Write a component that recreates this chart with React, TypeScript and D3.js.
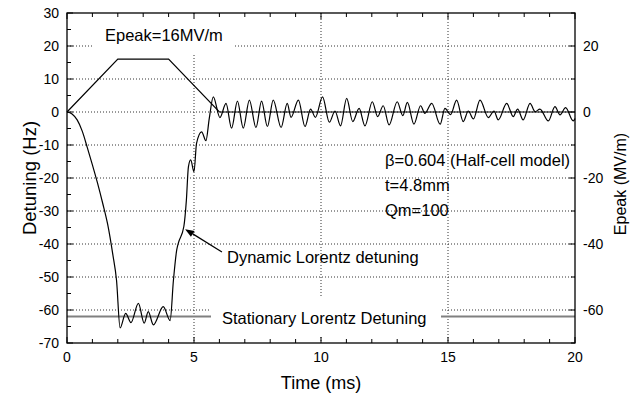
import React from 'react';
import * as d3 from 'd3';

// Dynamic Lorentz detuning (Hz) vs time (ms)
const detuneTime = [0, 0.2, 0.4, 0.6, 0.8, 1.0, 1.2, 1.4, 1.6, 1.8, 1.95, 2.09, 2.31, 2.52, 2.81, 3.04, 3.2, 3.4, 3.79, 4.06, 4.19, 4.32, 4.38, 4.6, 4.7, 4.78, 4.87, 5.0, 5.1, 5.3, 5.47, 5.6, 5.76, 6.02, 6.26, 6.48, 6.71, 6.94, 7.18, 7.44, 7.66, 7.89, 8.12, 8.43, 8.67, 8.82, 9.11, 9.37, 9.59, 9.78, 10.06, 10.33, 10.55, 10.77, 11.01, 11.25, 11.5, 11.73, 12.02, 12.23, 12.45, 12.68, 13.0, 13.22, 13.4, 13.66, 13.92, 14.09, 14.36, 14.69, 14.88, 15.1, 15.34, 15.6, 15.8, 16.0, 16.26, 16.59, 16.81, 16.98, 17.31, 17.57, 17.74, 17.96, 18.23, 18.43, 18.62, 18.95, 19.21, 19.41, 19.63, 19.93, 20];
const detuneHz = [0, -0.6, -2.4, -5.8, -10.8, -16, -21.5, -27.5, -34, -43, -51, -65.4, -61.0, -63.8, -58.0, -64.0, -60.5, -64.5, -59.0, -63.2, -51, -41.8, -39.8, -34.7, -26.7, -16.6, -14.5, -18.1, -9.5, -6.0, -8.7, -2, 4.6, -1.7, 2.6, -4.9, 3.3, -4.9, 3.6, -4.7, 3.3, -4.4, 3.6, -4.7, 2.6, -1.6, 3.6, -4.4, 0.9, -1.6, 4.6, -3.1, 0.3, -4.2, 4.1, -2.9, 1.1, -4.2, 3.1, -1.4, 1.9, -3.9, 3.1, -1.1, 2.9, -3.7, 1.9, -0.4, 2.6, -3.7, 1.1, -0.8, 3.6, -2.9, 0.3, -2.1, 3.6, -1.7, 0.3, -2.4, 2.6, -1.4, 0.9, -2.4, 2.6, 0.1, 0.9, -2.7, 1.6, -0.9, 1.3, -2.7, -2.0];

// Epeak (MV/m) pulse
const epeakTime = [0, 2, 4, 6, 20];
const epeakMV = [0, 16, 16, 0, 0];

const stationaryHz = -62;

const xTickLabels = [0, 5, 10, 15, 20];
const yTickLabels = [30, 20, 10, 0, -10, -20, -30, -40, -50, -60, -70];
const rightTickLabels = [20, 0, -20, -40, -60];
const gridYValues = [20, 10, 0, -10, -20, -30, -40, -50, -60];
const gridXValues = [5, 10, 15];

const FONT = '"Liberation Sans", Arial, sans-serif';

export default function App() {
  const W = 632, H = 399;
  const L = 67, R = 575, T = 13, B = 343;
  const x = d3.scaleLinear().domain([0, 20]).range([L, R]);
  const y = d3.scaleLinear().domain([-70, 30]).range([B, T]);
  const yR = d3.scaleLinear().domain([-70, 30]).range([B, T]);

  const detuneData = detuneTime.map((t, i) => [t, detuneHz[i]] as [number, number]);
  const epeakData = epeakTime.map((t, i) => [t, epeakMV[i]] as [number, number]);

  const detuneLine = d3.line<[number, number]>().x(d => x(d[0])).y(d => y(d[1])).curve(d3.curveMonotoneX);
  const epeakLine = d3.line<[number, number]>().x(d => x(d[0])).y(d => yR(d[1]));

  const minorX = d3.range(0, 20.001, 1);
  const minorY = d3.range(-70, 30.001, 5);
  const minorYR = d3.range(-70, 30.001, 10);

  const grid = { stroke: '#333', strokeWidth: 1, strokeDasharray: '1 2' };

  // arrow geometry (data coords)
  const a0 = [x(6.1), y(-42.4)];
  const a1 = [x(4.65), y(-35.5)];
  const ang = Math.atan2(a1[1] - a0[1], a1[0] - a0[0]);
  const ah = 9, aw = 3.5;
  const bx = a1[0] - ah * Math.cos(ang), by = a1[1] - ah * Math.sin(ang);
  const arrowHead = `${a1[0]},${a1[1]} ${bx + aw * Math.sin(ang)},${by - aw * Math.cos(ang)} ${bx - aw * Math.sin(ang)},${by + aw * Math.cos(ang)}`;

  return (
    <svg width={W} height={H} style={{ position: 'absolute', left: 0, top: 0, background: '#fff' }} fontFamily={FONT}>
      <rect x={0} y={0} width={W} height={H} fill="#fff" />
      {/* grid */}
      {gridYValues.map(v => (
        <line key={'gy' + v} x1={L} x2={R} y1={y(v)} y2={y(v)} {...grid} />
      ))}
      {gridXValues.map(v => (
        <line key={'gx' + v} x1={x(v)} x2={x(v)} y1={T} y2={B} {...grid} />
      ))}
      {/* white label boxes */}
      <rect x={93} y={T + 1} width={142} height={53 - T - 1} fill="#fff" />
      <rect x={211} y={298} width={230} height={38} fill="#fff" />

      {/* stationary detuning */}
      <line x1={L} x2={211} y1={y(stationaryHz)} y2={y(stationaryHz)} stroke="#808080" strokeWidth={2} />
      <line x1={441} x2={R} y1={y(stationaryHz)} y2={y(stationaryHz)} stroke="#808080" strokeWidth={2} />

      {/* curves */}
      <path d={epeakLine(epeakData) || ''} fill="none" stroke="#000" strokeWidth={1.2} />
      <path d={detuneLine(detuneData) || ''} fill="none" stroke="#000" strokeWidth={1.2} />

      {/* frame */}
      <rect x={L} y={T} width={R - L} height={B - T} fill="none" stroke="#000" strokeWidth={1.3} />

      {/* ticks bottom/top */}
      {minorX.map(v => {
        const major = v % 5 === 0;
        const len = major ? 6 : 4;
        return (
          <g key={'tx' + v}>
            <line x1={x(v)} x2={x(v)} y1={B} y2={B - len} stroke="#000" />
            <line x1={x(v)} x2={x(v)} y1={T} y2={T + len} stroke="#000" />
          </g>
        );
      })}
      {minorY.map(v => {
        const major = v % 10 === 0;
        const len = major ? 6 : 4;
        return <line key={'ty' + v} x1={L} x2={L + len} y1={y(v)} y2={y(v)} stroke="#000" />;
      })}
      {minorYR.map(v => {
        const major = v % 20 === 0;
        const len = major ? 6 : 4;
        return <line key={'tyr' + v} x1={R} x2={R - len} y1={yR(v)} y2={yR(v)} stroke="#000" />;
      })}

      {/* tick labels */}
      {xTickLabels.map(v => (
        <text key={'lx' + v} x={x(v)} y={362} fontSize={14} textAnchor="middle">{v}</text>
      ))}
      {yTickLabels.map(v => (
        <text key={'ly' + v} x={59} y={y(v) + 5} fontSize={14} textAnchor="end">{v}</text>
      ))}
      {rightTickLabels.map(v => (
        <text key={'lr' + v} x={583} y={yR(v) + 5} fontSize={14} textAnchor="start">{v}</text>
      ))}

      {/* axis titles */}
      <text x={(L + R) / 2} y={389} fontSize={18} textAnchor="middle">Time (ms)</text>
      <text transform={`translate(36,${(T + B) / 2}) rotate(-90)`} fontSize={18.5} textAnchor="middle">Detuning (Hz)</text>
      <text transform={`translate(626,${(T + B) / 2 + 6}) rotate(-90)`} fontSize={16} textAnchor="middle">Epeak (MV/m)</text>

      {/* annotations */}
      <text x={105} y={41} fontSize={16.5}>Epeak=16MV/m</text>
      <text x={385} y={166} fontSize={16.5}>β=0.604 (Half-cell model)</text>
      <text x={385} y={191} fontSize={16.5}>t=4.8mm</text>
      <text x={385} y={216} fontSize={16.5}>Qm=100</text>
      <text x={227} y={263} fontSize={16.5}>Dynamic Lorentz detuning</text>
      <text x={222} y={324} fontSize={16.5}>Stationary Lorentz Detuning</text>

      {/* arrow */}
      <line x1={a0[0]} y1={a0[1]} x2={bx} y2={by} stroke="#000" strokeWidth={1.2} />
      <polygon points={arrowHead} fill="#000" />
    </svg>
  );
}
